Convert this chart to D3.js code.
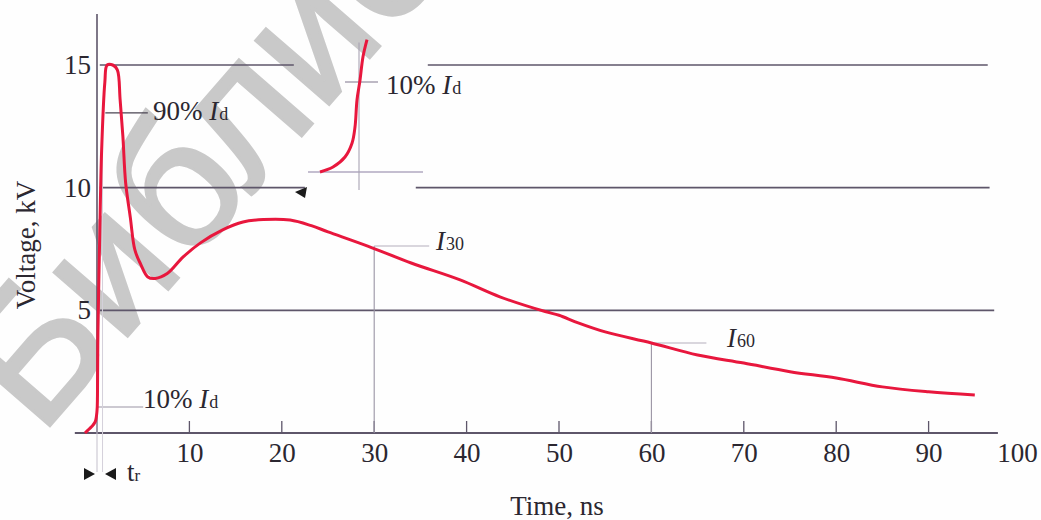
<!DOCTYPE html>
<html>
<head>
<meta charset="utf-8">
<script src="https://cdn.jsdelivr.net/npm/d3@7"></script>
<style>
  html, body { margin: 0; padding: 0; background: #fefefe; }
  svg { display: block; }
  text { font-family: "Liberation Serif", "Times New Roman", serif; fill: #2b2730; }
</style>
</head>
<body>
<svg id="chart" width="1041" height="520"></svg>
<script>
// ---- data ----
const timeNs = [-1.3, -0.6, -0.2, 0, 0.05, 0.1, 0.3, 0.5, 0.85, 1.1, 1.7, 2.2, 2.5, 2.8, 3.1, 3.6, 4.1, 4.7, 5.5, 6.3, 7.6, 9.3, 11.2, 13.6, 15.8, 18, 20.9, 23.2, 25, 29.3, 34, 39.3, 43.6, 48.5, 50, 52, 55, 60, 65, 70, 75, 80, 85, 90, 95];
const voltKV = [0, 0.25, 0.45, 0.9, 1.5, 4.1, 8.1, 11.5, 14.3, 15, 15, 14.8, 13.6, 12.1, 10.2, 8.8, 7.46, 6.9, 6.36, 6.3, 6.5, 7.17, 7.75, 8.28, 8.6, 8.7, 8.68, 8.45, 8.2, 7.62, 6.93, 6.24, 5.55, 4.95, 4.8, 4.5, 4.12, 3.67, 3.18, 2.85, 2.5, 2.24, 1.88, 1.68, 1.55];

// inset: zoom of the leading edge (time in ns relative to 10% point, level in % of Id)
const insetTime = [-0.39, -0.26, -0.14, -0.07, -0.04, -0.02, 0.01, 0.04, 0.08];
const insetLevel = [0, 0.56, 1.67, 3.2, 5, 8, 10.2, 12.8, 14.7];

const xTickMarks = [10, 20, 30, 40, 50, 60, 70, 80, 90];
const xTickLabels = [10, 20, 30, 40, 50, 60, 70, 80, 90, 100];
const yTickLabels = [5, 10, 15];
const markers = [ {t: 30, v: 7.62, name: "30"}, {t: 60, v: 3.67, name: "60"} ];

// ---- layout ----
const svg = d3.select("#chart");
const x = d3.scaleLinear().domain([0, 100]).range([97, 1021]);
const y = d3.scaleLinear().domain([0, 15]).range([433, 65]);
const ix = d3.scaleLinear().domain([0, 0.1]).range([359, 369]);
const iy = d3.scaleLinear().domain([0, 10]).range([172, 82]);

const axisCol = "#5e566a";
const red = "#e8173d";

// watermark
svg.append("text")
  .attr("transform", "translate(40,437) rotate(-49)")
  .style("font-family", "'Liberation Sans', Arial, sans-serif")
  .style("font-size", "184px")
  .style("fill", "#c9c9c9")
  .style("stroke", "#c9c9c9")
  .style("stroke-width", "3px")
  .text("Библиот");

// gridlines (interrupted by inset)
const gridSegs = [
  {v: 15, a: 0.3, b: 21.3}, {v: 15, a: 35.8, b: 96.4},
  {v: 10, a: 0.3, b: 22.5}, {v: 10, a: 34.5, b: 96.6},
  {v: 5, a: 0.3, b: 97.1}
];
svg.append("g").selectAll("line").data(gridSegs).join("line")
  .attr("x1", d => x(d.a)).attr("x2", d => x(d.b))
  .attr("y1", d => y(d.v)).attr("y2", d => y(d.v))
  .attr("stroke", axisCol).attr("stroke-width", 1.6);

// axes lines
svg.append("line").attr("x1", x(0)).attr("x2", x(0)).attr("y1", 14).attr("y2", y(0))
  .attr("stroke", axisCol).attr("stroke-width", 1.6);
svg.append("line").attr("x1", x(-2.4)).attr("x2", x(97.5)).attr("y1", y(0)).attr("y2", y(0))
  .attr("stroke", axisCol).attr("stroke-width", 2);

// x tick marks
svg.append("g").selectAll("line").data(xTickMarks).join("line")
  .attr("x1", d => x(d)).attr("x2", d => x(d))
  .attr("y1", y(0)).attr("y2", y(0) - 12)
  .attr("stroke", axisCol).attr("stroke-width", 1.3);

// x tick labels
const xAxis = svg.append("g").attr("transform", `translate(0,${y(0)})`)
  .call(d3.axisBottom(x).tickValues(xTickLabels).tickSize(0).tickPadding(10).tickFormat(d3.format("d")));
xAxis.select(".domain").remove();
xAxis.selectAll("text").style("font-size", "27px").style("font-family", "'Liberation Serif', serif").attr("fill", "#2b2730");
xAxis.selectAll(".tick").filter(d => d === 100).select("text").attr("dx", -4);

// y tick labels
const yAxis = svg.append("g").attr("transform", `translate(${x(0)},0)`)
  .call(d3.axisLeft(y).tickValues(yTickLabels).tickSize(0).tickPadding(6).tickFormat(d3.format("d")));
yAxis.select(".domain").remove();
yAxis.selectAll("text").style("font-size", "27px").style("font-family", "'Liberation Serif', serif").attr("fill", "#2b2730");

// axis titles
svg.append("text").attr("x", 557).attr("y", 515).attr("text-anchor", "middle")
  .style("font-size", "27px").text("Time, ns");
svg.append("text").attr("transform", "translate(35,245) rotate(-90)").attr("text-anchor", "middle")
  .style("font-size", "27px").text("Voltage, kV");

// annotation helper lines
const thin = "#9a94a4";
svg.append("line").attr("x1", x(0.9)).attr("x2", x(5.5)).attr("y1", y(13.05)).attr("y2", y(13.05))
  .attr("stroke", "#4a4452").attr("stroke-width", 1.2);
svg.append("line").attr("x1", x(0)).attr("x2", x(5)).attr("y1", y(1.06)).attr("y2", y(1.06))
  .attr("stroke", thin).attr("stroke-width", 1.2);
svg.append("line").attr("x1", x(0)).attr("x2", x(0)).attr("y1", y(1.5)).attr("y2", 472)
  .attr("stroke", "#c4c0cc").attr("stroke-width", 1);
svg.append("line").attr("x1", x(0.6)).attr("x2", x(0.6)).attr("y1", y(13)).attr("y2", 472)
  .attr("stroke", "#d4d0da").attr("stroke-width", 1);
markers.forEach(m => {
  svg.append("line").attr("x1", x(m.t)).attr("x2", x(m.t)).attr("y1", y(m.v)).attr("y2", y(0))
    .attr("stroke", thin).attr("stroke-width", 1.1);
  svg.append("line").attr("x1", x(m.t)).attr("x2", x(m.t) + 55).attr("y1", y(m.v)).attr("y2", y(m.v))
    .attr("stroke", "#b4aebc").attr("stroke-width", 1.1);
});

// inset guide lines
svg.append("line").attr("x1", ix(-0.51)).attr("x2", ix(0.64)).attr("y1", iy(0)).attr("y2", iy(0))
  .attr("stroke", "#b0a8c0").attr("stroke-width", 1.3);
svg.append("line").attr("x1", ix(0)).attr("x2", ix(0)).attr("y1", iy(14.4)).attr("y2", iy(-2))
  .attr("stroke", "#a8a2b2").attr("stroke-width", 1.1);
svg.append("line").attr("x1", ix(-0.14)).attr("x2", ix(0.19)).attr("y1", iy(10)).attr("y2", iy(10))
  .attr("stroke", "#a8a2b2").attr("stroke-width", 1.3);

// small black arrow near inset
svg.append("path").attr("d", "M295,192 L307,187 L305,198 Z").attr("fill", "#1a1a1a");
// tr arrows
svg.append("path").attr("d", "M84,468 L95,474 L84,480 Z").attr("fill", "#1a1a1a");
svg.append("path").attr("d", "M116,468 L105,474 L116,480 Z").attr("fill", "#1a1a1a");

// main curve
const line = d3.line().x((d, i) => x(timeNs[i])).y((d, i) => y(voltKV[i])).curve(d3.curveCatmullRom.alpha(0.5));
svg.append("path").datum(voltKV).attr("d", line)
  .attr("fill", "none").attr("stroke", red).attr("stroke-width", 3).attr("stroke-linejoin", "round");

// inset curve
const iline = d3.line().x((d, i) => ix(insetTime[i])).y((d, i) => iy(insetLevel[i])).curve(d3.curveCatmullRom);
svg.append("path").datum(insetLevel).attr("d", iline)
  .attr("fill", "none").attr("stroke", red).attr("stroke-width", 3);

// labels with italic I and small subscript
function label(xp, yp, pre, sub) {
  const t = svg.append("text").attr("x", xp).attr("y", yp).style("font-size", "27px");
  if (pre) t.append("tspan").text(pre);
  t.append("tspan").style("font-style", "italic").text("I");
  t.append("tspan").attr("dx", 1).style("font-size", "18px").text(sub);
}
label(153, 120, "90% ", "d");
label(143, 408, "10% ", "d");
label(386, 94, "10% ", "d");
label(436, 250, null, "30");
label(727, 347, null, "60");

const tr = svg.append("text").attr("x", 127).attr("y", 481).style("font-size", "27px");
tr.append("tspan").text("t");
tr.append("tspan").style("font-size", "17px").text("r");
</script>
</body>
</html>
